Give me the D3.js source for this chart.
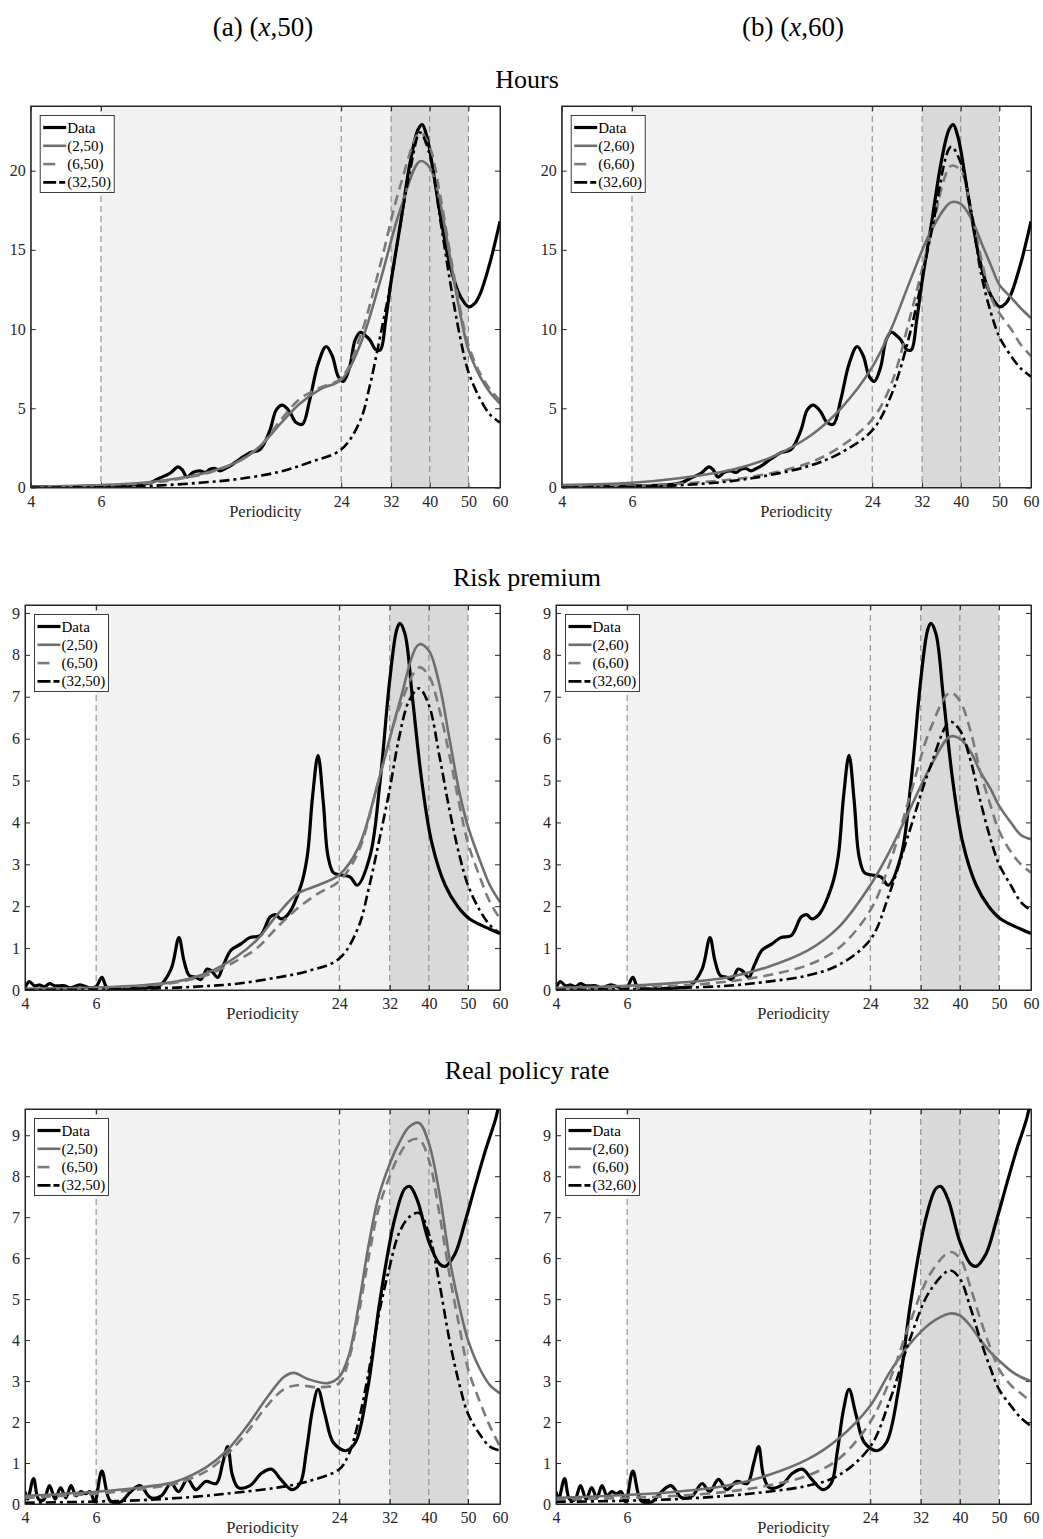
<!DOCTYPE html>
<html><head><meta charset="utf-8">
<script src="https://cdn.jsdelivr.net/npm/d3@7"></script>
<style>body{margin:0;background:#fff}svg{display:block}</style>
</head><body>
<script>
// ---------------- data ----------------
const periodTicks = [4, 6, 24, 32, 40, 50, 60];
const refLines = [6, 24, 32, 40, 50];
const lightBand = [6, 32];
const darkBand = [32, 50];
const colTitles = [["(a) (", "x", ",50)"], ["(b) (", "x", ",60)"]];
const rowTitles = ["Hours", "Risk premium", "Real policy rate"];
const legendA = ["Data", "(2,50)", "(6,50)", "(32,50)"];
const legendB = ["Data", "(2,60)", "(6,60)", "(32,60)"];
const hoursTicks = [0, 5, 10, 15, 20];
const riskTicks = [0, 1, 2, 3, 4, 5, 6, 7, 8, 9];
const rateTicks = [0, 1, 2, 3, 4, 5, 6, 7, 8, 9];
const hoursMax = 24.08, riskMax = 9.19, rateMax = 9.64;

// Hours
const hoursData = [[4,0.05],[5,0.05],[6,0.1],[7.1,0.15],[7.97,0.3],[8.43,0.6],[8.94,0.9],[9.36,1.3],[9.6,1.1],[9.86,0.66],[10.2,0.95],[10.62,1.05],[10.95,0.95],[11.25,1.15],[11.6,1.2],[11.92,1.05],[12.3,1.2],[12.63,1.35],[13.38,1.8],[14.18,2.2],[15.02,2.4],[15.9,3.6],[16.5,4.9],[17.1,5.2],[17.8,4.8],[18.5,4.1],[19.2,4.0],[20.0,5.5],[21.0,7.8],[22.0,8.9],[22.8,8.3],[23.6,7.0],[24.3,6.7],[25.2,7.6],[26.0,9.3],[26.8,9.8],[27.6,9.6],[28.35,9.3],[29.3,8.7],[30.1,8.7],[31,10.5],[32,13],[33.71,16.5],[35.71,20.5],[37.4,22.6],[38.3,22.9],[39.3,22.2],[40,21.3],[42.45,17.3],[44.98,14],[47.65,12.1],[50.1,11.4],[51.8,11.6],[53.47,12.2],[56.64,14.2],[60,16.8]];
const hoursA2 = [[4,0.05],[6,0.15],[7.97,0.35],[9.47,0.6],[11.25,1.0],[13.38,1.7],[15.02,2.6],[16.86,4.0],[18.92,5.3],[21.24,6.2],[24,6.8],[26.76,9],[30.03,13],[33.71,17.5],[37.83,20.6],[40,20.2],[42.45,18],[44.98,14.5],[47.65,11],[50,8.7],[53.47,7],[56.64,6],[60,5.3]];
const hoursA6 = [[4,0.05],[6,0.12],[7.97,0.3],[9.47,0.55],[11.25,0.95],[13.38,1.7],[15.02,2.6],[16.86,4.2],[18.92,5.6],[21.24,6.3],[24,6.9],[26.76,9.5],[30.03,14],[33.71,19],[37.83,22.4],[40,21.5],[42.45,18.5],[44.98,14.8],[47.65,11.3],[50,9],[53.47,7.2],[56.64,6.2],[60,5.5]];
const hoursA32 = [[4,0],[6,0.02],[7.97,0.1],[10.62,0.3],[13.38,0.55],[16.86,1.0],[20.05,1.6],[24,2.4],[26.76,4.2],[28.35,6.5],[30.03,9.5],[32,13],[33.71,16.5],[35.71,20],[37.83,22.4],[40,21],[42.45,17],[44.98,13],[47.65,9.5],[50,7.3],[53.47,5.6],[56.64,4.6],[60,4.1]];
const hoursB2 = [[4,0.15],[6,0.3],[7.97,0.6],[10.62,1.1],[13.38,1.9],[16.86,3.3],[20.05,5],[24,7.6],[26.76,10],[30.03,13.2],[33.71,16.2],[37.83,18],[40,17.9],[42.45,17],[44.98,15.5],[47.65,14],[50,12.8],[53.47,12],[56.64,11.3],[60,10.7]];
const hoursB6 = [[4,0.05],[6,0.1],[7.97,0.25],[10.62,0.5],[13.38,0.9],[16.86,1.6],[20.05,2.6],[24,4.3],[26.76,6.5],[30.03,11],[33.71,16],[37.83,20.3],[40,20],[42.45,17.5],[44.98,14.5],[47.65,12],[50,11],[53.47,10],[56.64,9],[60,8.3]];
const hoursB32 = [[4,0],[6,0.03],[7.97,0.15],[10.62,0.4],[13.38,0.8],[16.86,1.4],[20.05,2.2],[24,3.6],[26.76,5.8],[30.03,10],[33.71,16],[37.83,21.5],[40,20.5],[42.45,17.5],[44.98,13.5],[47.65,11],[50,9.5],[53.47,8.3],[56.64,7.5],[60,7]];

// Risk premium
const riskData = [[4,0.05],[4.1,0.2],[4.22,0.1],[4.35,0.12],[4.47,0.08],[4.6,0.15],[4.74,0.1],[5.02,0.1],[5.17,0.05],[5.47,0.12],[5.8,0.05],[6.0,0.08],[6.2,0.3],[6.4,0.05],[7.1,0.03],[7.97,0.05],[8.6,0.1],[9.2,0.5],[9.62,1.25],[9.9,0.7],[10.2,0.35],[10.6,0.3],[10.9,0.25],[11.3,0.5],[11.6,0.45],[12.0,0.3],[12.4,0.6],[12.95,0.95],[13.7,1.1],[14.4,1.25],[15.3,1.3],[16.2,1.75],[16.7,1.8],[17.2,1.7],[17.9,1.8],[19.3,2.5],[20.0,3.2],[20.6,4.6],[21.26,5.6],[21.9,4.5],[22.5,3.2],[23.2,2.8],[24,2.75],[25.5,2.7],[26.6,2.5],[28.6,3.2],[30.3,5.0],[32,7.4],[33.3,8.6],[33.9,8.75],[34.9,8.5],[36.4,7.0],[38.4,5.0],[40.7,3.5],[43.9,2.5],[47.1,2.0],[50.4,1.7],[56.7,1.45],[60,1.35]];
const riskA2 = [[4,0.03],[6,0.06],[7.97,0.12],[9.47,0.2],[11.25,0.4],[13.38,0.8],[15.02,1.2],[16.86,1.8],[18.92,2.3],[21.24,2.5],[24,2.75],[26.76,3.4],[30.03,5],[33.71,6.8],[37.83,8.25],[40,8.1],[42.45,7.3],[44.98,6],[47.65,4.7],[50,3.9],[53.47,3.1],[56.64,2.5],[60,2.1]];
const riskA6 = [[4,0.02],[6,0.05],[7.97,0.1],[9.47,0.18],[11.25,0.35],[13.38,0.7],[15.02,1.0],[16.86,1.5],[18.92,1.95],[21.24,2.3],[24,2.6],[26.76,3.3],[30.03,5],[33.71,6.7],[37.83,7.7],[40,7.5],[42.45,6.7],[44.98,5.6],[47.65,4.4],[50,3.5],[53.47,2.7],[56.64,2.1],[60,1.7]];
const riskA32 = [[4,0],[6,0.01],[7.97,0.03],[10.62,0.08],[13.38,0.15],[16.86,0.3],[20.05,0.45],[24,0.75],[26.76,1.5],[28.35,2.4],[30.03,3.5],[32,4.8],[33.71,6],[35.71,6.9],[37.83,7.2],[40,6.8],[42.45,5.6],[44.98,4.3],[47.65,3.2],[50,2.5],[53.47,1.9],[56.64,1.55],[60,1.35]];
const riskB2 = [[4,0.05],[6,0.1],[7.97,0.17],[10.62,0.3],[13.38,0.55],[16.86,0.95],[20.05,1.5],[24,2.5],[26.76,3.3],[30.03,4.3],[33.71,5.3],[37.83,6.05],[40,6.0],[42.45,5.7],[44.98,5.2],[47.65,4.8],[50,4.4],[53.47,4.0],[56.64,3.7],[60,3.6]];
const riskB6 = [[4,0.02],[6,0.05],[7.97,0.1],[10.62,0.2],[13.38,0.35],[16.86,0.6],[20.05,1.0],[24,1.9],[26.76,3.0],[30.03,4.6],[33.71,6.2],[37.83,7.1],[40,6.9],[42.45,6.2],[44.98,5.2],[47.65,4.4],[50,3.8],[53.47,3.3],[56.64,3.0],[60,2.8]];
const riskB32 = [[4,0],[6,0.02],[7.97,0.05],[10.62,0.1],[13.38,0.2],[16.86,0.35],[20.05,0.6],[24,1.2],[26.76,2.3],[30.03,3.8],[33.71,5.3],[37.83,6.4],[40,6.2],[42.45,5.5],[44.98,4.5],[47.65,3.6],[50,3.0],[53.47,2.5],[56.64,2.1],[60,1.9]];

// Real policy rate
const rateData = [[4,0.3],[4.06,0.12],[4.2,0.62],[4.32,0.12],[4.45,0.1],[4.6,0.45],[4.75,0.12],[4.9,0.4],[5.05,0.15],[5.2,0.45],[5.35,0.2],[5.5,0.3],[5.65,0.25],[5.8,0.3],[5.95,0.05],[6.2,0.8],[6.5,0.08],[6.9,0.05],[7.3,0.3],[7.7,0.45],[8.2,0.15],[8.7,0.2],[9.2,0.5],[9.6,0.3],[10.1,0.6],[10.6,0.35],[11.2,0.55],[11.9,0.5],[12.35,1.0],[12.7,1.4],[13.05,0.7],[13.5,0.4],[14.43,0.45],[15.4,0.75],[16.3,0.85],[17.2,0.6],[18.3,0.35],[19.2,0.5],[19.9,1.3],[20.6,2.3],[21.26,2.8],[22.1,2.2],[23.2,1.5],[24.9,1.3],[26.3,1.5],[28.2,2.8],[30.3,5.0],[33,7.0],[34.9,7.7],[35.9,7.75],[37.5,7.4],[40,6.4],[42.6,5.85],[43.9,5.8],[46.4,6.1],[49.2,6.9],[52.2,7.8],[55.1,8.6],[58.7,9.45],[60,9.9]];
const rateA2 = [[4,0.2],[6,0.3],[7.97,0.42],[9.47,0.55],[11.25,0.9],[12.63,1.3],[14.18,1.9],[15.9,2.6],[17.5,3.1],[18.5,3.2],[20.05,3.05],[22.5,2.95],[24,3.1],[25.3,3.6],[26.76,4.8],[28.35,6.3],[30.03,7.5],[32,8.3],[33.71,8.8],[35.71,9.2],[37.83,9.3],[40,8.8],[42.45,7.6],[44.98,6.0],[47.65,4.8],[50,4.0],[53.47,3.3],[56.64,2.9],[60,2.7]];
const rateA6 = [[4,0.15],[6,0.25],[7.97,0.38],[9.47,0.5],[11.25,0.8],[12.63,1.2],[14.18,1.75],[15.9,2.4],[17.5,2.8],[18.92,2.9],[21.24,2.85],[24,2.95],[25.3,3.5],[26.76,4.6],[28.35,6.0],[30.03,7.2],[32,8.0],[33.71,8.5],[35.71,8.85],[37.83,8.9],[40,8.4],[42.45,7.1],[44.98,5.6],[47.65,4.3],[50,3.3],[53.47,2.5],[56.64,1.9],[60,1.4]];
const rateA32 = [[4,0.03],[6,0.06],[7.97,0.1],[10.62,0.18],[13.38,0.28],[16.86,0.4],[20.05,0.55],[24,0.85],[25.3,1.2],[26.76,2.0],[28.35,3.2],[30.03,4.6],[32,5.8],[33.71,6.6],[35.71,7.0],[37.83,7.1],[40,6.6],[42.45,5.4],[44.98,4.0],[47.65,2.9],[50,2.2],[53.47,1.7],[56.64,1.4],[60,1.3]];
const rateB2 = [[4,0.15],[6,0.22],[7.97,0.3],[10.62,0.45],[13.38,0.7],[16.86,1.1],[20.05,1.6],[24,2.4],[26.76,3.2],[30.03,3.9],[33.71,4.4],[37.83,4.65],[40,4.6],[42.45,4.35],[44.98,4.0],[47.65,3.7],[50,3.5],[53.47,3.25],[56.64,3.1],[60,3.0]];
const rateB6 = [[4,0.1],[6,0.15],[7.97,0.2],[10.62,0.3],[13.38,0.45],[16.86,0.7],[20.05,1.1],[24,2.0],[26.76,3.0],[30.03,4.4],[33.71,5.6],[37.83,6.15],[40,6.0],[42.45,5.3],[44.98,4.5],[47.65,3.8],[50,3.3],[53.47,2.9],[56.64,2.7],[60,2.5]];
const rateB32 = [[4,0.05],[6,0.08],[7.97,0.12],[10.62,0.2],[13.38,0.3],[16.86,0.45],[20.05,0.7],[24,1.4],[26.76,2.5],[30.03,4.0],[33.71,5.2],[37.83,5.7],[40,5.5],[42.45,4.8],[44.98,4.0],[47.65,3.3],[50,2.8],[53.47,2.4],[56.64,2.1],[60,1.9]];

// ---------------- layout & style ----------------
const W = 1043, H = 1539;
const FONT = "'Liberation Serif','Times New Roman',serif";
const AX = "#262626";
const rows = [
  {title: rowTitles[0], titleY: 88, top: 106, bottom: 487.5, lefts: [30.7, 561.7], ticks: hoursTicks, ymax: hoursMax,
   series: [[hoursData, hoursA2, hoursA6, hoursA32], [hoursData, hoursB2, hoursB6, hoursB32]]},
  {title: rowTitles[1], titleY: 586, top: 605, bottom: 990, lefts: [25, 556], ticks: riskTicks, ymax: riskMax,
   series: [[riskData, riskA2, riskA6, riskA32], [riskData, riskB2, riskB6, riskB32]]},
  {title: rowTitles[2], titleY: 1079, top: 1109, bottom: 1504, lefts: [25, 556], ticks: rateTicks, ymax: rateMax,
   series: [[rateData, rateA2, rateA6, rateA32], [rateData, rateB2, rateB6, rateB32]]}
];
const rights = [500, 1031];
const styles = [
  {stroke: "#000", width: 3.2, dash: null, legDash: null},
  {stroke: "#6e6e6e", width: 2.6, dash: null, legDash: null},
  {stroke: "#7a7a7a", width: 2.6, dash: "10,6", legDash: "12,14"},
  {stroke: "#000", width: 2.6, dash: "10,4,3,4", legDash: "13,3,6,4"}
];

const svg = d3.select("body").append("svg").attr("width", W).attr("height", H)
  .style("font-family", FONT);
svg.append("rect").attr("width", W).attr("height", H).attr("fill", "#fff");

// column titles
colTitles.forEach((t, c) => {
  const cx = c === 0 ? 263 : 793;
  const txt = svg.append("text").attr("x", cx).attr("y", 36).attr("text-anchor", "middle")
    .attr("font-size", 27).attr("fill", "#000");
  txt.append("tspan").text(t[0]);
  txt.append("tspan").attr("font-style", "italic").text(t[1]);
  txt.append("tspan").text(t[2]);
});

const line = d3.line().curve(d3.curveCatmullRom.alpha(0.5));

rows.forEach((row, r) => {
  svg.append("text").attr("x", 527).attr("y", row.titleY).attr("text-anchor", "middle")
    .attr("font-size", 26).attr("fill", "#000").text(row.title);

  [0, 1].forEach(c => {
    const L = row.lefts[c], R = rights[c];
    const x = d3.scaleLog().domain([4, 60]).range([L, R]);
    const y = d3.scaleLinear().domain([0, row.ymax]).range([row.bottom, row.top]);
    const g = svg.append("g");
    const clipId = `clip-${r}-${c}`;
    g.append("clipPath").attr("id", clipId).append("rect")
      .attr("x", L).attr("y", row.top).attr("width", R - L).attr("height", row.bottom - row.top);

    // bands
    g.append("rect").attr("x", x(lightBand[0])).attr("y", row.top)
      .attr("width", x(lightBand[1]) - x(lightBand[0])).attr("height", row.bottom - row.top).attr("fill", "#f2f2f2");
    g.append("rect").attr("x", x(darkBand[0])).attr("y", row.top)
      .attr("width", x(darkBand[1]) - x(darkBand[0])).attr("height", row.bottom - row.top).attr("fill", "#d9d9d9");
    // reference lines
    g.selectAll(".ref").data(refLines).join("line")
      .attr("x1", d => x(d)).attr("x2", d => x(d)).attr("y1", row.top).attr("y2", row.bottom)
      .attr("stroke", "#808080").attr("stroke-width", 1).attr("stroke-dasharray", "6,4");

    // axes
    const yl = g.append("g").attr("transform", `translate(${L},0)`)
      .call(d3.axisLeft(y).tickValues(row.ticks).tickSizeInner(-5).tickSizeOuter(0).tickPadding(5).tickFormat(d3.format("d")));
    const yr = g.append("g").attr("transform", `translate(${R},0)`)
      .call(d3.axisRight(y).tickValues(row.ticks).tickSizeInner(-5).tickSizeOuter(0).tickFormat(""));
    const xb = g.append("g").attr("transform", `translate(0,${row.bottom})`)
      .call(d3.axisBottom(x).tickValues(periodTicks).tickSizeInner(-5).tickSizeOuter(0).tickPadding(8).tickFormat(d3.format("d")));
    const xt = g.append("g").attr("transform", `translate(0,${row.top})`)
      .call(d3.axisTop(x).tickValues(periodTicks).tickSizeInner(-5).tickSizeOuter(0).tickFormat(""));
    [yl, yr, xb, xt].forEach(a => {
      a.selectAll("path").attr("stroke", AX).attr("stroke-width", 1);
      a.selectAll("line").attr("stroke", AX).attr("stroke-width", 1);
      a.selectAll("text").attr("fill", AX).attr("font-size", 16).attr("font-family", FONT);
    });

    // series
    const lg = g.append("g").attr("clip-path", `url(#${clipId})`);
    row.series[c].forEach((s, i) => {
      const st = styles[i];
      lg.append("path").attr("d", line(s.map(d => [x(d[0]), y(d[1])])))
        .attr("fill", "none").attr("stroke", st.stroke).attr("stroke-width", st.width)
        .attr("stroke-dasharray", st.dash).attr("stroke-linejoin", "round");
    });

    // frame
    g.append("rect").attr("x", L).attr("y", row.top).attr("width", R - L).attr("height", row.bottom - row.top)
      .attr("fill", "none").attr("stroke", AX).attr("stroke-width", 1);

    // x label
    g.append("text").attr("x", (L + R) / 2).attr("y", row.bottom + 29).attr("text-anchor", "middle")
      .attr("font-size", 16.5).attr("fill", AX).text("Periodicity");

    // legend
    const names = c === 0 ? legendA : legendB;
    const lx = L + 9.5, ly = row.top + 9.5;
    const leg = g.append("g");
    leg.append("rect").attr("x", lx).attr("y", ly).attr("width", 74).attr("height", 77)
      .attr("fill", "#fff").attr("stroke", AX).attr("stroke-width", 0.9);
    names.forEach((nm, i) => {
      const yy = ly + 12 + i * 18.3;
      const st = styles[i];
      leg.append("line").attr("x1", lx + 3).attr("x2", lx + 26).attr("y1", yy).attr("y2", yy)
        .attr("stroke", st.stroke).attr("stroke-width", st.width).attr("stroke-dasharray", st.legDash);
      leg.append("text").attr("x", lx + 27).attr("y", yy + 5).attr("font-size", 15).attr("fill", "#000").text(nm);
    });
  });
});
</script>
</body></html>
